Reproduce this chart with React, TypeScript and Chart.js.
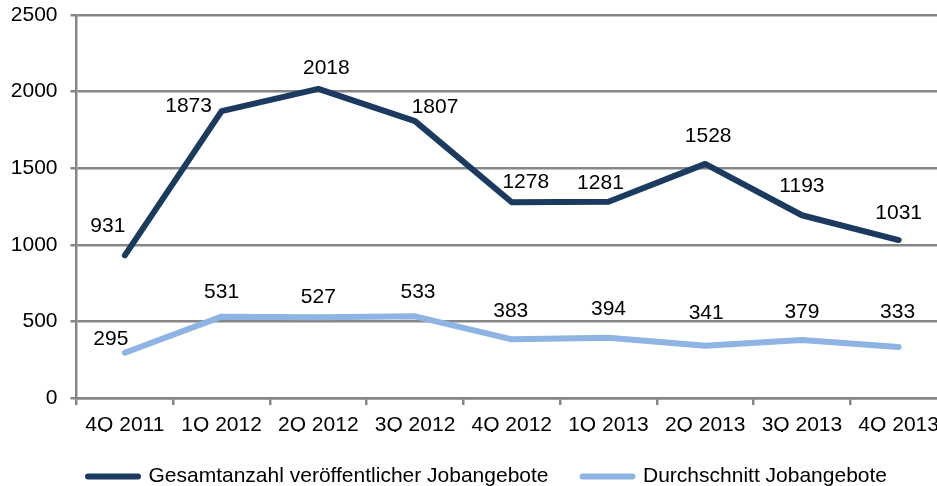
import React, { useEffect, useRef } from "react";
import { Chart, registerables } from "chart.js";

Chart.register(...registerables);

const categories = ["4Q 2011", "1Q 2012", "2Q 2012", "3Q 2012", "4Q 2012", "1Q 2013", "2Q 2013", "3Q 2013", "4Q 2013"];
const totalOffers = [931, 1873, 2018, 1807, 1278, 1281, 1528, 1193, 1031];
const averageOffers = [295, 531, 527, 533, 383, 394, 341, 379, 333];
const seriesNames = ["Gesamtanzahl veröffentlicher Jobangebote", "Durchschnitt Jobangebote"];
const yTicks = [0, 500, 1000, 1500, 2000, 2500];

// label nudges (px) relative to each point
const totalLabelNudge: [number, number][] = [[-17, -29], [-33, -5], [8, -21], [20, -14], [14, -20], [-8, -19], [3, -28], [0, -29], [0, -27]];
const averageLabelNudge: [number, number][] = [[-14, -14], [0, -24], [0, -20], [3, -24], [-1, -28], [0, -28], [1, -33], [0, -28], [-1, -35]];

const FONT = "'Liberation Sans', Arial, sans-serif";
const FS = 21;
const DARK = "#1B3A60";
const LIGHT = "#8DB4E2";
const GRID = "#868686";

const labelPlugin = {
  id: "valueLabels",
  afterDatasetsDraw(chart: any) {
    const ctx = chart.ctx;
    ctx.save();
    ctx.font = `${FS}px ${FONT}`;
    ctx.fillStyle = "#000";
    ctx.textAlign = "center";
    ctx.textBaseline = "middle";
    chart.data.datasets.forEach((ds: any, di: number) => {
      const meta = chart.getDatasetMeta(di);
      const nudges = di === 0 ? totalLabelNudge : averageLabelNudge;
      meta.data.forEach((pt: any, i: number) => {
        const [dx, dy] = nudges[i];
        ctx.fillText(String(ds.data[i]), pt.x + dx, pt.y + dy);
      });
    });
    ctx.restore();
  },
};

export default function App() {
  const ref = useRef<HTMLCanvasElement>(null);
  useEffect(() => {
    if (!ref.current) return;
    const chart = new Chart(ref.current, {
      type: "line",
      data: {
        labels: categories,
        datasets: [
          {
            label: seriesNames[0],
            data: totalOffers,
            borderColor: DARK,
            backgroundColor: DARK,
            borderWidth: 6,
            pointRadius: 0,
            borderJoinStyle: "round",
            borderCapStyle: "round",
            tension: 0,
          },
          {
            label: seriesNames[1],
            data: averageOffers,
            borderColor: LIGHT,
            backgroundColor: LIGHT,
            borderWidth: 6,
            pointRadius: 0,
            borderJoinStyle: "round",
            borderCapStyle: "round",
            tension: 0,
          },
        ],
      },
      options: {
        responsive: false,
        animation: false,
        devicePixelRatio: 1,
        layout: { padding: { top: 15, left: 0, right: 0, bottom: 0 } },
        plugins: {
          tooltip: { enabled: false },
          legend: {
            position: "bottom",
            labels: {
              font: { family: FONT, size: FS },
              color: "#000",
              usePointStyle: true,
              pointStyleWidth: 50,
              padding: 34,
              generateLabels: (chart: any) =>
                chart.data.datasets.map((ds: any, i: number) => ({
                  text: ds.label,
                  fillStyle: ds.borderColor,
                  strokeStyle: ds.borderColor,
                  lineWidth: 6,
                  lineCap: "round",
                  pointStyle: "line",
                  hidden: false,
                  datasetIndex: i,
                  fontColor: "#000",
                })),
            },
          },
        },
        scales: {
          x: {
            offset: true,
            grid: {
              offset: true,
              drawOnChartArea: false,
              drawTicks: true,
              tickLength: 7,
              color: GRID,
              lineWidth: 2.5,
            },
            border: { color: GRID, width: 2.5 },
            ticks: { font: { family: FONT, size: FS }, color: "#000", padding: 8, maxRotation: 0, autoSkip: false },
            afterFit: (s: any) => { s.height = 34; s.paddingLeft = 0; s.paddingRight = 0; },
          },
          y: {
            min: 0,
            max: 2500,
            afterBuildTicks: (s: any) => { s.ticks = yTicks.map((v) => ({ value: v })); },
            grid: { color: GRID, lineWidth: 2.5, tickLength: 6 },
            border: { color: GRID, width: 2.5 },
            ticks: { font: { family: FONT, size: FS }, color: "#000", padding: 13, callback: (v: any) => String(v) },
            afterFit: (s: any) => { s.width = 76.5; s.paddingTop = 0; s.paddingBottom = 0; },
          },
          yRightSpacer: {
            position: "right",
            display: true,
            grid: { display: false, drawTicks: false },
            border: { display: false },
            ticks: { display: false },
            afterFit: (s: any) => { s.width = 28; s.paddingTop = 0; s.paddingBottom = 0; },
          },
        },
      },
      plugins: [labelPlugin],
    });
    return () => chart.destroy();
  }, []);
  return (
    <div style={{ position: "absolute", left: 0, top: 0, width: 937, height: 486, overflow: "hidden", background: "#fff" }}>
      <canvas ref={ref} width={975} height={497} style={{ display: "block" }} />
    </div>
  );
}
